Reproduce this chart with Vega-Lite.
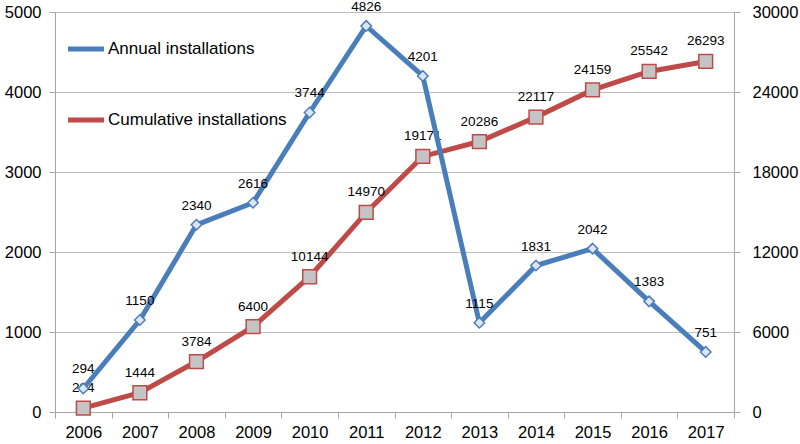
{
  "$schema": "https://vega.github.io/schema/vega-lite/v6.json",
  "width": 679,
  "height": 400,
  "autosize": {"type": "none"},
  "padding": {"left": 55, "top": 12, "right": 66, "bottom": 32},
  "background": "white",
  "config": {
    "view": {"stroke": null},
    "font": "Liberation Sans",
    "axis": {"labelFont": "Liberation Sans", "labelFontSize": 16.5, "labelColor": "black", "domainColor": "#A6A6A6", "tickColor": "#A6A6A6", "gridColor": "#BFBFBF", "format": "d"}
  },
  "data": {
    "values": [
      {"year": "2006", "annual": 294, "cumulative": 294},
      {"year": "2007", "annual": 1150, "cumulative": 1444},
      {"year": "2008", "annual": 2340, "cumulative": 3784},
      {"year": "2009", "annual": 2616, "cumulative": 6400},
      {"year": "2010", "annual": 3744, "cumulative": 10144},
      {"year": "2011", "annual": 4826, "cumulative": 14970},
      {"year": "2012", "annual": 4201, "cumulative": 19171},
      {"year": "2013", "annual": 1115, "cumulative": 20286},
      {"year": "2014", "annual": 1831, "cumulative": 22117},
      {"year": "2015", "annual": 2042, "cumulative": 24159},
      {"year": "2016", "annual": 1383, "cumulative": 25542},
      {"year": "2017", "annual": 751, "cumulative": 26293}
    ]
  },
  "encoding": {
    "x": {"field": "year", "type": "ordinal", "title": null,
      "scale": {"paddingInner": 0, "paddingOuter": 0},
      "axis": {"labelAngle": 0, "tickBand": "extent", "tickSize": 6, "labelPadding": 6, "grid": false}}
  },
  "layer": [
    {
      "encoding": {
        "y": {"field": "cumulative", "type": "quantitative", "title": null,
          "scale": {"domain": [0, 30000], "nice": false},
          "axis": {"orient": "right", "values": [0, 6000, 12000, 18000, 24000, 30000], "format": "d", "grid": false, "tickSize": 6, "labelPadding": 12}}
      },
      "layer": [
        {"mark": {"type": "line", "strokeWidth": 5},
         "encoding": {"color": {"datum": "Cumulative installations", "type": "nominal",
            "scale": {"domain": ["Annual installations", "Cumulative installations"], "range": ["#4A7EBB", "#BE4B48"]},
            "legend": {"orient": "none", "legendX": 10, "legendY": 16, "title": null, "symbolType": "stroke", "symbolStrokeWidth": 5, "symbolSize": 1300, "labelFontSize": 17, "labelFont": "Liberation Sans", "labelLimit": 400, "rowPadding": 40, "labelOffset": 1}}}},
        {"mark": {"type": "square", "size": 190, "fill": "#C4C4C4", "stroke": "#BE4B48", "strokeWidth": 1.5, "opacity": 1}},
        {"mark": {"type": "text", "dy": -20, "fontSize": 13.5, "color": "black"},
         "encoding": {"text": {"field": "cumulative", "type": "quantitative", "format": "d"}}}
      ]
    },
    {
      "encoding": {
        "y": {"field": "annual", "type": "quantitative", "title": null,
          "scale": {"domain": [0, 5000], "nice": false},
          "axis": {"orient": "left", "values": [0, 1000, 2000, 3000, 4000, 5000], "format": "d", "grid": true, "tickSize": 6, "labelPadding": 8}}
      },
      "layer": [
        {"mark": {"type": "line", "strokeWidth": 5},
         "encoding": {"color": {"datum": "Annual installations", "type": "nominal"}}},
        {"mark": {"type": "point", "shape": "diamond", "size": 110, "fill": "#DCE6F2", "stroke": "#4A7EBB", "strokeWidth": 1.5, "opacity": 1, "filled": true}},
        {"mark": {"type": "text", "dy": -19, "fontSize": 13.5, "color": "black"},
         "encoding": {"text": {"field": "annual", "type": "quantitative", "format": "d"}}}
      ]
    }
  ],
  "resolve": {"scale": {"y": "independent"}}
}
